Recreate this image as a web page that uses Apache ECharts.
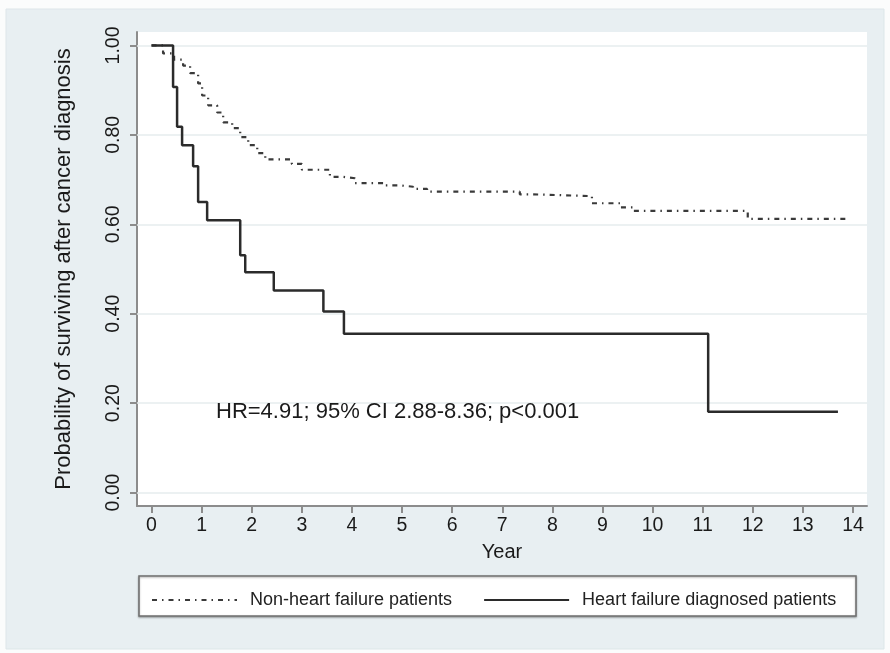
<!DOCTYPE html>
<html>
<head>
<meta charset="utf-8">
<script src="https://cdn.jsdelivr.net/npm/echarts@6/dist/echarts.min.js"></script>
<style>
html,body{margin:0;padding:0;background:#fbfcfc;}
#chart{width:890px;height:653px;}
</style>
</head>
<body>
<div id="chart"></div>
<script>
// ---- data ----
const xTicks = [0,1,2,3,4,5,6,7,8,9,10,11,12,13,14];
const yTicks = [0, 0.2, 0.4, 0.6, 0.8, 1.0];
const seriesNames = ['Non-heart failure patients', 'Heart failure diagnosed patients'];

const nonHfYears = [0, 0.23, 0.45, 0.63, 0.77, 0.93, 1.01, 1.13, 1.31, 1.43, 1.61, 1.77, 1.93, 2.11, 2.27, 2.8, 3.0, 3.56, 3.83, 4.06, 4.66, 4.96, 5.22, 5.5, 7.35, 7.6, 8.79, 9.35, 9.61, 11.9, 13.9];
const nonHfSurv  = [1.0, 0.982, 0.968, 0.955, 0.938, 0.915, 0.888, 0.866, 0.85, 0.828, 0.815, 0.795, 0.777, 0.759, 0.745, 0.735, 0.722, 0.706, 0.703, 0.692, 0.687, 0.684, 0.679, 0.673, 0.667, 0.663, 0.647, 0.638, 0.63, 0.612, 0.612];

const hfYears = [0, 0.43, 0.51, 0.61, 0.83, 0.93, 1.11, 1.77, 1.87, 2.44, 3.43, 3.84, 11.11, 13.70];
const hfSurv  = [1.0, 0.907, 0.818, 0.777, 0.73, 0.65, 0.609, 0.531, 0.493, 0.452, 0.405, 0.355, 0.181, 0.181];

const annotation = 'HR=4.91; 95% CI 2.88-8.36; p<0.001';

// ---- chart ----
const zip = (xs, ys) => xs.map((x, i) => [x, ys[i]]);
const chart = echarts.init(document.getElementById('chart'), null, {renderer: 'canvas'});
const FONT = '"Liberation Sans", Arial, sans-serif';

const option = {
  backgroundColor: 'transparent',
  animation: false,
  graphic: [
    { type: 'rect', z: -10, shape: {x: 6, y: 9, width: 878, height: 640},
      style: {fill: '#e8eff2', stroke: '#dde6e9', lineWidth: 1} },
    { type: 'rect', z: 1, shape: {x: 139, y: 576, width: 717, height: 40},
      style: {fill: '#ffffff', stroke: '#6f6f6f', lineWidth: 1.5, shadowBlur: 2, shadowColor: 'rgba(0,0,0,0.3)', shadowOffsetY: 1} },
    { type: 'text', z: 5, left: 216, top: 401,
      style: {text: annotation, font: '22px ' + FONT, fill: '#1a1a1a'} }
  ],
  grid: {
    left: 137, right: 23, top: 32, bottom: 147,
    show: true, backgroundColor: '#ffffff', borderWidth: 0
  },
  legend: {
    left: 146, top: 586, itemWidth: 85, itemHeight: 14, itemGap: 31,
    data: seriesNames,
    itemStyle: {opacity: 0, borderWidth: 0},
    textStyle: {fontFamily: FONT, fontSize: 18, color: '#222', padding: [0, 0, 0, 8]},
    z: 10
  },
  xAxis: {
    type: 'value', min: -0.29, max: 14.28,
    name: 'Year', nameLocation: 'middle', nameGap: 36,
    nameTextStyle: {fontFamily: FONT, fontSize: 20, color: '#1a1a1a'},
    axisLine: {show: true, onZero: false, lineStyle: {color: '#8c8c8c', width: 2}},
    axisTick: {show: true, length: 7, customValues: xTicks, lineStyle: {color: '#8c8c8c', width: 2}},
    axisLabel: {customValues: xTicks, margin: 10, fontFamily: FONT, fontSize: 19.5, color: '#1a1a1a'},
    splitLine: {show: false}
  },
  yAxis: {
    type: 'value', min: -0.03, max: 1.03,
    name: 'Probability of surviving after cancer diagnosis', nameLocation: 'middle', nameGap: 62,
    nameTextStyle: {fontFamily: FONT, fontSize: 22, color: '#1a1a1a'},
    axisLine: {show: true, onZero: false, lineStyle: {color: '#8c8c8c', width: 2}},
    axisTick: {show: true, length: 7, customValues: yTicks, lineStyle: {color: '#8c8c8c', width: 2}},
    axisLabel: {customValues: yTicks, rotate: 90, margin: 13, fontFamily: FONT, fontSize: 19.5, color: '#1a1a1a',
      formatter: v => v.toFixed(2)},
    splitLine: {show: false}
  },
  series: [
    {
      name: seriesNames[0], type: 'line', step: 'end', symbol: 'none', showSymbol: false,
      data: zip(nonHfYears, nonHfSurv),
      lineStyle: {color: '#3a3a3a', width: 2.2, type: [5, 5, 1.5, 5]},
      itemStyle: {color: '#3a3a3a'},
      z: 4,
      markLine: {
        silent: true, symbol: 'none', label: {show: false},
        lineStyle: {color: '#e6ecee', width: 1.5, type: 'solid'},
        data: yTicks.map(v => ({yAxis: v})),
        z: 1
      }
    },
    {
      name: seriesNames[1], type: 'line', step: 'end', symbol: 'none', showSymbol: false,
      data: zip(hfYears, hfSurv),
      lineStyle: {color: '#2b2b2b', width: 2.5, type: 'solid'},
      itemStyle: {color: '#2b2b2b'},
      z: 5
    }
  ]
};
chart.setOption(option);
</script>
</body>
</html>
